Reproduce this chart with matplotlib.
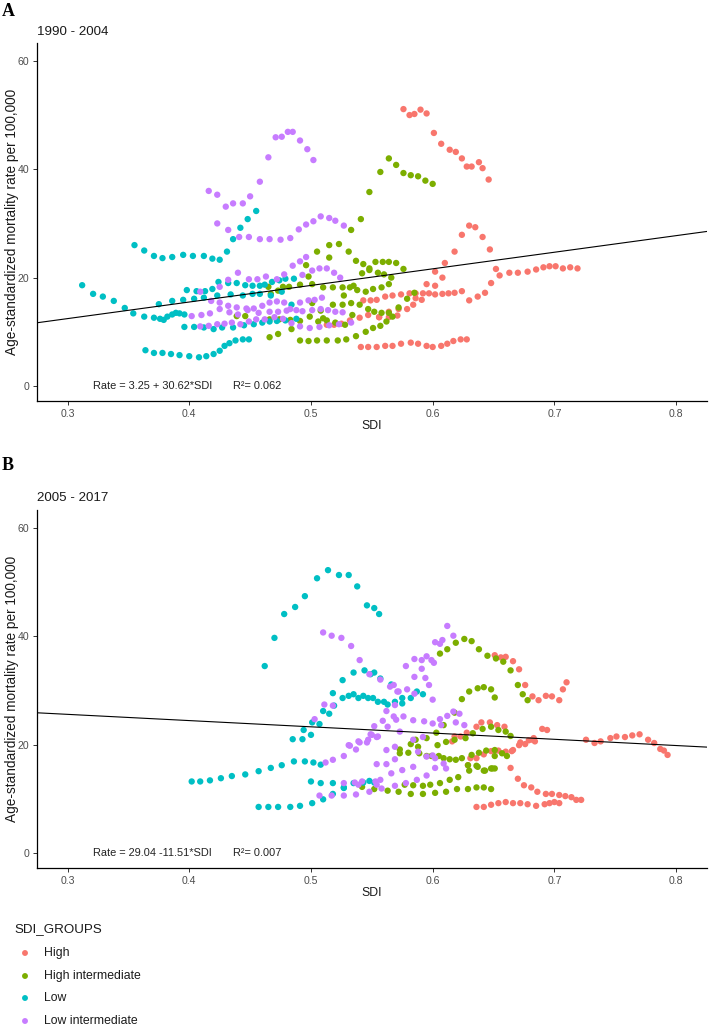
import matplotlib
matplotlib.use("Agg")
import matplotlib.pyplot as plt
import numpy as np

# ---------------- data ----------------
GROUPS = ["High", "High intermediate", "Low", "Low intermediate"]
COLORS = ["#F8766D", "#7CAE00", "#00BFC4", "#C77CFF"]

# Panel A (1990 - 2004)
A_HIGH_X = [0.576,0.581,0.585,0.590,0.595,0.601,0.607,0.614,0.619,0.624,0.628,0.632,0.638,0.641,0.646,
            0.595,0.602,0.602,0.608,0.610,0.618,0.624,0.630,0.635,0.641,0.647,
            0.652,0.655,0.663,0.670,0.678,0.685,0.691,0.696,0.701,0.707,0.713,0.719,
            0.543,0.549,0.554,0.561,0.567,0.574,0.581,0.586,0.592,0.597,0.602,0.608,0.613,0.618,0.624,0.630,0.637,0.643,0.648,
            0.513,0.519,0.525,0.532,0.540,0.547,0.556,0.564,0.572,0.579,0.584,0.586,0.591,
            0.541,0.547,0.554,0.561,0.567,0.574,0.582,0.588,0.595,0.600,0.607,0.612,0.617,0.623,0.628,
            0.556,0.564,0.571]
A_HIGH_Y = [51.1,50.0,50.2,51.0,50.3,46.7,44.7,43.6,43.2,42.0,40.5,40.5,41.3,40.2,38.1,
            18.8,18.5,21.1,20.0,22.7,24.8,27.9,29.6,29.3,27.5,25.2,
            21.6,20.4,20.9,20.9,21.1,21.5,21.9,22.1,22.1,21.7,21.9,21.7,
            15.8,15.8,15.9,16.5,16.7,16.9,17.1,17.1,17.1,17.1,16.9,17.0,17.1,17.2,17.5,15.8,16.5,17.2,19.0,
            11.3,11.3,11.5,12.1,12.6,13.1,12.7,13.7,14.2,14.2,15.0,16.2,15.9,
            7.2,7.2,7.2,7.4,7.4,7.8,8.0,7.8,7.4,7.2,7.4,7.8,8.3,8.6,8.6,
            12.7,12.7,13.0]

A_HIGHINT_X = [0.505,0.515,0.523,0.533,0.541,0.548,0.557,0.564,0.570,0.576,0.582,0.588,0.594,0.600,
               0.496,0.498,0.515,0.531,0.537,0.543,0.548,0.553,0.559,0.564,0.570,0.576,
               0.465,0.467,0.473,0.477,0.482,0.491,0.501,0.510,0.518,0.526,0.532,0.535,0.538,0.545,0.551,0.558,0.564,0.566,
               0.542,0.548,0.555,0.560,
               0.501,0.508,0.518,0.526,0.527,0.533,0.540,0.547,0.552,0.558,0.564,0.572,0.579,0.585,
               0.439,0.446,0.466,0.474,0.483,0.491,0.499,0.506,0.510,0.513,0.520,0.528,0.534,
               0.466,0.473,0.484,0.491,0.498,0.505,0.513,0.522,0.529,0.537,0.545,0.551,0.557,0.562,0.567]
A_HIGHINT_Y = [24.8,26.0,26.2,28.8,30.8,35.8,39.5,42.0,40.8,39.3,38.9,38.7,37.9,37.3,
               22.3,20.2,23.7,24.8,23.1,22.5,21.7,22.9,22.9,22.9,22.7,21.6,
               18.3,17.0,17.6,18.3,18.3,18.7,18.8,18.2,18.2,18.2,18.2,18.5,17.7,17.4,17.9,18.2,18.8,20.0,
               20.8,21.4,20.9,20.6,
               15.3,13.9,15.0,15.0,16.7,15.3,15.0,14.2,13.7,13.5,13.5,14.5,16.1,17.2,
               12.9,12.9,12.3,12.3,12.2,12.0,12.8,11.9,12.5,12.1,11.7,11.3,13.1,
               9.0,9.6,10.5,8.4,8.3,8.4,8.4,8.4,8.6,9.2,10.0,10.7,11.1,11.9,12.8]

A_LOW_X = [0.312,0.321,0.329,0.338,0.347,0.354,0.363,0.371,0.376,0.379,0.382,0.386,0.389,0.392,0.396,
           0.355,0.363,0.371,0.378,0.386,0.395,0.403,0.412,0.419,0.425,0.431,0.436,0.442,0.448,0.455,
           0.364,0.371,0.378,0.385,0.392,0.400,0.408,0.414,0.420,0.425,0.429,0.433,0.438,0.444,0.449,
           0.396,0.404,0.412,0.420,0.427,0.436,0.445,0.453,0.460,0.466,0.472,0.479,0.488,
           0.375,0.386,0.395,0.404,0.412,0.423,0.434,0.444,0.452,0.458,0.467,0.476,0.484,
           0.398,0.406,0.413,0.419,0.424,0.432,0.439,0.446,0.452,0.458,0.462,0.468,0.474,0.479,0.486]
A_LOW_Y = [18.6,17.0,16.5,15.7,14.4,13.4,12.8,12.6,12.4,12.2,12.8,13.2,13.5,13.4,13.2,
           26.0,25.0,24.0,23.6,23.8,24.2,24.0,24.0,23.5,23.3,24.8,27.1,29.2,30.8,32.3,
           6.6,6.1,6.1,5.9,5.7,5.5,5.3,5.5,5.9,6.5,7.4,7.9,8.4,8.6,8.6,
           10.9,10.9,10.8,10.5,10.8,10.8,11.2,11.4,11.7,11.9,12.0,12.1,12.4,
           15.1,15.7,15.9,16.1,16.3,16.7,16.9,16.7,17.0,17.0,16.7,17.4,15.0,
           17.7,17.5,17.5,17.9,19.2,19.0,19.0,18.6,18.5,18.5,18.7,19.2,19.5,19.8,19.8]

A_LOWINT_X = [0.416,0.423,0.430,0.436,0.444,0.450,0.458,0.465,0.471,0.476,0.481,0.485,0.491,0.497,0.502,
              0.423,0.432,0.441,0.449,0.458,0.466,0.475,0.483,0.490,0.496,0.502,0.508,0.515,0.520,0.527,
              0.425,0.432,0.440,0.449,0.456,0.463,0.472,0.478,0.485,0.491,0.496,
              0.493,0.501,0.507,0.513,0.519,0.524,
              0.409,0.418,0.425,0.432,0.439,0.447,0.453,0.460,0.466,0.472,0.478,0.483,0.491,0.498,0.503,0.509,
              0.402,0.410,0.417,0.425,0.433,0.440,0.448,0.457,0.466,0.473,0.480,0.488,0.493,0.501,0.508,0.514,0.520,0.526,
              0.409,0.416,0.423,0.429,0.435,0.442,0.449,0.455,0.462,0.470,0.477,0.484,0.491,0.499,0.507,0.515,0.523,0.533]
A_LOWINT_Y = [36.0,35.3,33.1,33.7,33.7,35.0,37.7,42.2,45.9,46.0,46.9,46.9,45.3,43.7,41.7,
              30.0,28.8,27.5,27.5,27.1,27.1,27.0,27.3,28.9,29.8,30.4,31.3,31.0,30.5,29.6,
              18.3,19.6,20.9,19.7,19.7,20.2,19.7,20.6,22.2,23.0,23.8,
              20.5,21.3,21.7,21.7,20.9,20.0,
              17.4,15.7,15.4,14.8,14.5,14.3,14.3,14.8,15.4,15.6,15.4,14.2,15.4,15.8,15.9,16.3,
              12.9,13.1,13.4,14.2,13.6,13.2,14.0,13.5,13.7,13.7,13.9,14.0,13.8,14.0,14.2,14.0,13.7,13.6,
              11.0,11.1,11.4,11.5,11.7,11.4,11.9,12.3,12.3,12.7,12.4,11.6,11.0,10.7,10.9,11.2,11.4,11.7]

# Panel B (2005 - 2017)
B_HIGH_X = [0.651,0.656,0.660,0.666,0.671,0.676,0.682,0.687,0.693,0.698,0.704,0.707,0.710,
            0.616,0.618,0.623,0.628,0.636,0.640,0.647,0.653,0.659,
            0.629,0.631,0.636,0.642,0.648,0.654,0.660,0.665,
            0.664,0.670,0.675,0.681,0.686,0.693,0.698,0.704,0.709,0.714,0.718,0.722,
            0.636,0.642,0.648,0.654,0.660,0.666,0.672,0.678,0.685,0.692,0.696,0.700,0.704,
            0.666,0.671,0.672,0.676,0.679,0.682,0.684,0.683,0.690,0.694,
            0.726,0.733,0.738,0.746,0.751,0.758,0.764,0.770,0.777,0.782,0.787,0.790,0.793]
B_HIGH_Y = [36.5,36.1,36.2,35.4,33.9,31.0,28.9,28.2,29.0,28.9,28.2,30.2,31.5,
            20.6,21.5,21.5,22.2,23.3,24.1,24.1,23.6,23.3,
            16.2,17.5,17.5,18.2,18.8,18.9,18.7,18.8,
            15.7,13.7,12.5,12.1,11.3,10.9,10.9,10.7,10.5,10.3,9.8,9.8,
            8.5,8.5,8.9,9.2,9.4,9.2,9.2,9.0,8.7,9.0,9.2,9.4,9.2,
            19.0,19.9,20.4,20.1,20.8,20.9,20.6,21.2,22.9,22.7,
            20.9,20.3,20.6,21.2,21.5,21.4,21.7,21.9,20.9,20.3,19.2,18.9,18.1]

B_HIGHINT_X = [0.606,0.612,0.619,0.626,0.632,0.638,0.645,0.652,0.658,0.664,0.670,0.674,0.678,
               0.586,0.595,0.603,0.609,0.618,0.624,0.630,0.637,0.642,0.648,0.651,
               0.573,0.580,0.589,0.595,0.599,0.605,0.609,0.614,0.619,0.624,0.629,0.636,0.643,0.649,0.651,
               0.573,0.582,0.588,0.604,0.611,0.618,0.627,0.633,0.641,0.648,0.654,0.660,0.664,
               0.632,0.638,0.644,0.651,0.657,0.661,0.651,
               0.577,0.584,0.592,0.598,0.606,0.614,0.621,0.630,0.637,0.642,0.648,
               0.542,0.552,0.563,0.572,0.582,0.592,0.602,0.611,0.620,0.629,0.636,0.642,0.648]
B_HIGHINT_Y = [36.8,37.6,38.8,39.5,39.1,37.6,36.4,35.9,35.3,33.7,31.0,29.3,28.2,
               20.9,21.2,22.2,23.6,25.9,28.4,29.8,30.4,30.6,30.2,28.7,
               18.4,18.5,18.4,17.9,17.9,17.9,17.5,17.3,17.2,17.5,16.2,16.1,15.2,15.6,15.6,
               19.1,20.1,19.6,19.9,20.5,20.9,21.2,22.1,22.9,23.3,22.7,22.4,21.6,
               18.1,18.5,18.9,19.0,18.4,17.9,17.9,
               12.6,12.5,12.4,12.6,12.9,13.5,14.0,15.2,15.9,15.2,15.6,
               12.2,11.8,11.5,11.3,10.9,10.9,11.1,11.3,11.8,11.8,12.1,12.1,11.8]

B_LOW_X = [0.462,0.470,0.478,0.487,0.495,0.505,0.514,0.523,0.531,0.538,0.546,0.552,0.556,
           0.402,0.409,0.417,0.426,0.435,0.446,0.457,0.467,0.476,0.486,0.495,0.502,0.508,
           0.485,0.493,0.500,0.494,0.501,0.507,0.510,0.515,0.519,0.518,0.526,0.535,0.544,0.549,0.552,0.557,
           0.457,0.465,0.473,0.483,0.491,0.501,0.510,0.518,0.527,0.535,0.543,0.548,0.552,
           0.500,0.508,0.518,0.527,
           0.526,0.531,0.535,0.539,0.543,0.547,0.551,0.555,0.560,0.563,0.566,0.569,0.575,0.575,0.582,0.587,0.592]
B_LOW_Y = [34.5,39.7,44.1,45.4,47.4,50.7,52.2,51.3,51.3,49.2,45.7,45.2,44.1,
           13.2,13.2,13.4,13.8,14.2,14.5,15.1,15.7,16.2,16.9,16.9,16.7,16.3,
           21.0,21.0,21.8,22.7,24.1,23.8,26.2,25.7,27.2,29.5,31.9,33.3,33.7,33.0,33.3,32.2,
           8.5,8.5,8.5,8.5,8.7,9.2,9.9,10.9,12.0,12.9,13.0,13.3,13.0,
           13.2,12.9,12.9,12.1,
           28.6,29.0,29.3,28.6,29.0,28.6,28.6,27.9,27.9,27.4,31.1,27.9,28.6,27.6,28.6,29.8,29.3]

B_LOWINT_X = [0.510,0.517,0.525,0.533,0.540,0.548,0.557,0.565,0.572,0.579,0.585,0.600,
              0.503,0.511,0.518,0.512,0.518,0.527,0.531,0.537,0.540,0.547,0.549,0.554,
              0.552,0.559,0.563,0.562,0.568,0.570,0.576,0.569,0.584,0.593,0.600,0.606,0.612,0.617,0.622,0.626,0.619,
              0.568,0.571,0.578,0.585,0.585,0.591,0.595,0.599,0.601,0.591,0.594,0.597,0.602,0.606,0.608,0.612,0.617,
              0.507,0.517,0.527,0.537,0.548,0.558,0.569,0.578,0.587,0.595,0.602,0.609,0.611,
              0.527,0.536,0.542,0.553,0.539,0.554,0.557,
              0.554,0.562,0.566,0.569,0.575,0.584,0.588,0.595,0.600,0.602,
              0.532,0.539,0.546,0.550,0.555,0.562,0.569,0.573,0.584,0.592,0.607]
B_LOWINT_Y = [40.7,40.1,39.7,38.2,35.6,33.0,32.0,30.7,29.8,30.2,29.4,28.3,
              24.7,27.4,27.2,16.7,17.2,17.9,19.9,19.1,20.4,20.9,21.9,21.4,
              23.4,24.4,23.3,26.2,25.2,24.6,25.2,27.3,24.5,24.3,23.9,24.7,25.3,26.1,25.7,23.6,24.1,
              31.0,29.8,34.5,32.5,35.8,35.6,36.3,35.6,35.1,34.0,32.3,31.0,38.9,38.6,39.3,41.9,40.1,
              10.6,10.6,10.6,10.8,11.3,11.9,12.4,12.9,13.5,14.3,15.7,16.5,15.6,
              12.9,13.0,13.2,13.2,12.6,12.6,13.5,
              16.4,16.4,14.7,17.3,15.3,15.9,18.7,17.8,18.0,17.5,
              19.8,20.6,20.4,21.8,21.5,19.0,19.6,22.4,20.9,21.4,23.6]

# regression lines (from the printed equations)
A_INTERCEPT, A_SLOPE, A_R2 = 3.25, 30.62, "0.062"
B_INTERCEPT, B_SLOPE, B_R2 = 29.04, -11.51, "0.007"
A_EQ = "Rate = 3.25 + 30.62*SDI"
B_EQ = "Rate = 29.04 -11.51*SDI"

PANEL_TITLES = ["1990 - 2004", "2005 - 2017"]
PANEL_LETTERS = ["A", "B"]
X_TICKS = [0.3, 0.4, 0.5, 0.6, 0.7, 0.8]
Y_TICKS = [0, 20, 40, 60]

# ---------------- figure ----------------
W, H = 709, 1028
fig = plt.figure(figsize=(W / 100, H / 100), dpi=100)
plt.rcParams['font.family'] = ['Liberation Sans', 'DejaVu Sans']

XLIM = (0.2749, 0.8254)
YLIM = (-2.77, 63.3)

def fx(px):
    return px / W

def fy(py):
    return 1 - py / H

panels = [
    dict(top=43, bottom=401, data=[(A_HIGH_X, A_HIGH_Y), (A_HIGHINT_X, A_HIGHINT_Y), (A_LOW_X, A_LOW_Y), (A_LOWINT_X, A_LOWINT_Y)],
         a=A_INTERCEPT, b=A_SLOPE, eq=A_EQ, r2=A_R2, title_y=32, letter_y=11, xlabel_y=426),
    dict(top=510, bottom=868, data=[(B_HIGH_X, B_HIGH_Y), (B_HIGHINT_X, B_HIGHINT_Y), (B_LOW_X, B_LOW_Y), (B_LOWINT_X, B_LOWINT_Y)],
         a=B_INTERCEPT, b=B_SLOPE, eq=B_EQ, r2=B_R2, title_y=498, letter_y=466, xlabel_y=893),
]

left_px, right_px = 37, 707
for i, p in enumerate(panels):
    ax = fig.add_axes([fx(left_px), fy(p['bottom']), (right_px - left_px) / W, (p['bottom'] - p['top']) / H])
    for (xs, ys), c in zip(p['data'], COLORS):
        ax.scatter(xs, ys, s=21, color=c, edgecolors='none', zorder=2)
    xx = np.array(XLIM)
    ax.plot(xx, p['a'] + p['b'] * xx, color='black', lw=0.8, zorder=3)
    ax.set_xlim(*XLIM)
    ax.set_ylim(*YLIM)
    ax.set_xticks(X_TICKS)
    ax.set_xticklabels([f"{t:.1f}" for t in X_TICKS])
    ax.set_yticks(Y_TICKS)
    for s in ['top', 'right']:
        ax.spines[s].set_visible(False)
    for s in ['left', 'bottom']:
        ax.spines[s].set_linewidth(0.9)
        ax.spines[s].set_color('black')
    ax.tick_params(axis='both', length=3, width=0.7, color='#333333', labelsize=7.6,
                   labelcolor='#4D4D4D', pad=2.5)
    ax.text(0.321, 0, p['eq'], fontsize=7.9, va='center', ha='left', color='#222222')
    ax.text(0.436, 0, "R²= " + p['r2'], fontsize=7.9, va='center', ha='left', color='#222222')

    fig.text(fx(37), fy(p['title_y']), PANEL_TITLES[i], fontsize=9.6, ha='left', va='center', color='#1a1a1a')
    fig.text(fx(2), fy(p['letter_y']), PANEL_LETTERS[i], fontsize=13, fontweight='bold',
             family=['Liberation Serif', 'DejaVu Serif'], ha='left', va='center')
    fig.text(fx((left_px + right_px) / 2), fy(p['xlabel_y']), "SDI", fontsize=8.8, ha='center', va='center', color='#1a1a1a')
    fig.text(fx(12), fy((p['top'] + p['bottom']) / 2), "Age-standardized mortality rate per 100,000",
             fontsize=9.8, rotation=90, ha='center', va='center', color='#1a1a1a')

# legend
fig.text(fx(14), fy(929), "SDI_GROUPS", fontsize=9.6, ha='left', va='center', color='#1a1a1a')
leg_rows = [953, 976, 998, 1021]
lax = fig.add_axes([0, 0, 1, 1], facecolor='none')
lax.set_xlim(0, W)
lax.set_ylim(H, 0)
lax.axis('off')
for g, c, yy in zip(GROUPS, COLORS, leg_rows):
    lax.scatter([25], [yy], s=18, color=c, edgecolors='none')
    lax.text(44, yy, g, fontsize=8.8, ha='left', va='center', color='#1a1a1a')

fig.savefig("out.png", dpi=100)
